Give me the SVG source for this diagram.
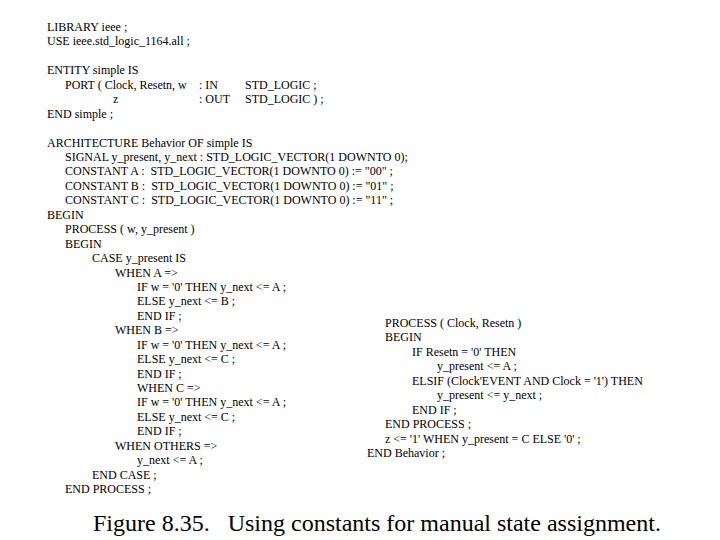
<svg xmlns="http://www.w3.org/2000/svg" width="720" height="540" viewBox="0 0 720 540">
<style>
text{font-family:'Liberation Serif','Times New Roman',Tinos,'DejaVu Serif',serif;font-size:12px;fill:#000;white-space:pre}
.cap{font-size:24px}
</style>
<rect width="720" height="540" fill="#fff"/>
<g id="code-left" font-family="Liberation Serif">
<text x="47" y="31">LIBRARY ieee ;</text>
<text x="47" y="45.4">USE ieee.std_logic_1164.all ;</text>
<text x="47" y="74.3">ENTITY simple IS</text>
<text x="65" y="88.8">PORT ( Clock, Resetn, w</text>
<text x="199" y="88.8">: IN</text>
<text x="245" y="88.8">STD_LOGIC ;</text>
<text x="113" y="103.2">z</text>
<text x="199" y="103.2">: OUT</text>
<text x="245" y="103.2">STD_LOGIC ) ;</text>
<text x="47" y="117.6">END simple ;</text>
<text x="47" y="146.5">ARCHITECTURE Behavior OF simple IS</text>
<text x="65" y="161">SIGNAL y_present, y_next : STD_LOGIC_VECTOR(1 DOWNTO 0);</text>
<text x="65" y="175.4">CONSTANT A :  STD_LOGIC_VECTOR(1 DOWNTO 0) := "00" ;</text>
<text x="65" y="189.8">CONSTANT B :  STD_LOGIC_VECTOR(1 DOWNTO 0) := "01" ;</text>
<text x="65" y="204.3">CONSTANT C :  STD_LOGIC_VECTOR(1 DOWNTO 0) := "11" ;</text>
<text x="47" y="218.7">BEGIN</text>
<text x="65" y="233.2">PROCESS ( w, y_present )</text>
<text x="65" y="247.6">BEGIN</text>
<text x="92" y="262">CASE y_present IS</text>
<text x="115" y="276.5">WHEN A =&gt;</text>
<text x="137" y="290.9">IF w = '0' THEN y_next &lt;= A ;</text>
<text x="137" y="305.4">ELSE y_next &lt;= B ;</text>
<text x="137" y="319.8">END IF ;</text>
<text x="115" y="334.2">WHEN B =&gt;</text>
<text x="137" y="348.7">IF w = '0' THEN y_next &lt;= A ;</text>
<text x="137" y="363.1">ELSE y_next &lt;= C ;</text>
<text x="137" y="377.6">END IF ;</text>
<text x="137" y="392">WHEN C =&gt;</text>
<text x="137" y="406.4">IF w = '0' THEN y_next &lt;= A ;</text>
<text x="137" y="420.9">ELSE y_next &lt;= C ;</text>
<text x="137" y="435.3">END IF ;</text>
<text x="115" y="449.8">WHEN OTHERS =&gt;</text>
<text x="137" y="464.2">y_next &lt;= A ;</text>
<text x="92" y="478.6">END CASE ;</text>
<text x="65" y="493.1">END PROCESS ;</text>
</g>
<g id="code-right">
<text x="385" y="327">PROCESS ( Clock, Resetn )</text>
<text x="385" y="341.4">BEGIN</text>
<text x="412" y="355.9">IF Resetn = '0' THEN</text>
<text x="437" y="370.3">y_present &lt;= A ;</text>
<text x="412" y="384.8">ELSIF (Clock'EVENT AND Clock = '1') THEN</text>
<text x="437" y="399.2">y_present &lt;= y_next ;</text>
<text x="412" y="413.6">END IF ;</text>
<text x="385" y="428.1">END PROCESS ;</text>
<text x="385" y="442.5">z &lt;= '1' WHEN y_present = C ELSE '0' ;</text>
<text x="367" y="457">END Behavior ;</text>
</g>
<text class="cap" x="93" y="531">Figure 8.35.   Using constants for manual state assignment.</text>
</svg>
